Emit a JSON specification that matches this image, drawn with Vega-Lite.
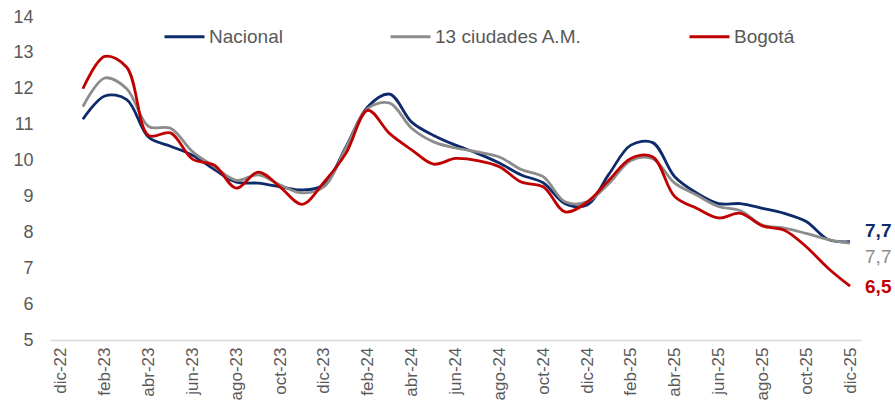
{
  "$schema": "https://vega.github.io/schema/vega-lite/v6.json",
  "autosize": {"type": "none"},
  "padding": {"left": 50, "top": 17, "right": 34, "bottom": 70},
  "width": 811,
  "height": 323,
  "config": {
    "font": "Liberation Sans",
    "view": {"stroke": null},
    "locale": {"number": {"decimal": ",", "thousands": ".", "grouping": [3], "currency": ["$", ""]}}
  },
  "data": {"values": [
    {"mes":"ene-23","serie":"Nacional","valor":11.15},{"mes":"feb-23","serie":"Nacional","valor":11.8},{"mes":"mar-23","serie":"Nacional","valor":11.7},{"mes":"abr-23","serie":"Nacional","valor":10.65},{"mes":"may-23","serie":"Nacional","valor":10.4},{"mes":"jun-23","serie":"Nacional","valor":10.15},{"mes":"jul-23","serie":"Nacional","valor":9.75},{"mes":"ago-23","serie":"Nacional","valor":9.4},{"mes":"sep-23","serie":"Nacional","valor":9.37},{"mes":"oct-23","serie":"Nacional","valor":9.27},{"mes":"nov-23","serie":"Nacional","valor":9.18},{"mes":"dic-23","serie":"Nacional","valor":9.32},
    {"mes":"ene-24","serie":"Nacional","valor":10.38},{"mes":"feb-24","serie":"Nacional","valor":11.5},{"mes":"mar-24","serie":"Nacional","valor":11.85},{"mes":"abr-24","serie":"Nacional","valor":11.07},{"mes":"may-24","serie":"Nacional","valor":10.7},{"mes":"jun-24","serie":"Nacional","valor":10.43},{"mes":"jul-24","serie":"Nacional","valor":10.2},{"mes":"ago-24","serie":"Nacional","valor":9.93},{"mes":"sep-24","serie":"Nacional","valor":9.6},{"mes":"oct-24","serie":"Nacional","valor":9.38},{"mes":"nov-24","serie":"Nacional","valor":8.8},{"mes":"dic-24","serie":"Nacional","valor":8.76},
    {"mes":"ene-25","serie":"Nacional","valor":9.62},{"mes":"feb-25","serie":"Nacional","valor":10.43},{"mes":"mar-25","serie":"Nacional","valor":10.5},{"mes":"abr-25","serie":"Nacional","valor":9.55},{"mes":"may-25","serie":"Nacional","valor":9.1},{"mes":"jun-25","serie":"Nacional","valor":8.8},{"mes":"jul-25","serie":"Nacional","valor":8.8},{"mes":"ago-25","serie":"Nacional","valor":8.67},{"mes":"sep-25","serie":"Nacional","valor":8.53},{"mes":"oct-25","serie":"Nacional","valor":8.3},{"mes":"nov-25","serie":"Nacional","valor":7.8},{"mes":"dic-25","serie":"Nacional","valor":7.74},
    {"mes":"ene-23","serie":"13 ciudades A.M.","valor":11.5},{"mes":"feb-23","serie":"13 ciudades A.M.","valor":12.3},{"mes":"mar-23","serie":"13 ciudades A.M.","valor":12.0},{"mes":"abr-23","serie":"13 ciudades A.M.","valor":10.95},{"mes":"may-23","serie":"13 ciudades A.M.","valor":10.9},{"mes":"jun-23","serie":"13 ciudades A.M.","valor":10.25},{"mes":"jul-23","serie":"13 ciudades A.M.","valor":9.83},{"mes":"ago-23","serie":"13 ciudades A.M.","valor":9.45},{"mes":"sep-23","serie":"13 ciudades A.M.","valor":9.6},{"mes":"oct-23","serie":"13 ciudades A.M.","valor":9.32},{"mes":"nov-23","serie":"13 ciudades A.M.","valor":9.1},{"mes":"dic-23","serie":"13 ciudades A.M.","valor":9.27},
    {"mes":"ene-24","serie":"13 ciudades A.M.","valor":10.35},{"mes":"feb-24","serie":"13 ciudades A.M.","valor":11.45},{"mes":"mar-24","serie":"13 ciudades A.M.","valor":11.6},{"mes":"abr-24","serie":"13 ciudades A.M.","valor":10.9},{"mes":"may-24","serie":"13 ciudades A.M.","valor":10.52},{"mes":"jun-24","serie":"13 ciudades A.M.","valor":10.35},{"mes":"jul-24","serie":"13 ciudades A.M.","valor":10.24},{"mes":"ago-24","serie":"13 ciudades A.M.","valor":10.1},{"mes":"sep-24","serie":"13 ciudades A.M.","valor":9.75},{"mes":"oct-24","serie":"13 ciudades A.M.","valor":9.55},{"mes":"nov-24","serie":"13 ciudades A.M.","valor":8.85},{"mes":"dic-24","serie":"13 ciudades A.M.","valor":8.85},
    {"mes":"ene-25","serie":"13 ciudades A.M.","valor":9.36},{"mes":"feb-25","serie":"13 ciudades A.M.","valor":10.0},{"mes":"mar-25","serie":"13 ciudades A.M.","valor":10.05},{"mes":"abr-25","serie":"13 ciudades A.M.","valor":9.37},{"mes":"may-25","serie":"13 ciudades A.M.","valor":9.04},{"mes":"jun-25","serie":"13 ciudades A.M.","valor":8.72},{"mes":"jul-25","serie":"13 ciudades A.M.","valor":8.6},{"mes":"ago-25","serie":"13 ciudades A.M.","valor":8.2},{"mes":"sep-25","serie":"13 ciudades A.M.","valor":8.12},{"mes":"oct-25","serie":"13 ciudades A.M.","valor":7.97},{"mes":"nov-25","serie":"13 ciudades A.M.","valor":7.8},{"mes":"dic-25","serie":"13 ciudades A.M.","valor":7.7},
    {"mes":"ene-23","serie":"Bogotá","valor":12.0},{"mes":"feb-23","serie":"Bogotá","valor":12.9},{"mes":"mar-23","serie":"Bogotá","valor":12.6},{"mes":"abr-23","serie":"Bogotá","valor":10.7},{"mes":"may-23","serie":"Bogotá","valor":10.77},{"mes":"jun-23","serie":"Bogotá","valor":10.04},{"mes":"jul-23","serie":"Bogotá","valor":9.87},{"mes":"ago-23","serie":"Bogotá","valor":9.23},{"mes":"sep-23","serie":"Bogotá","valor":9.68},{"mes":"oct-23","serie":"Bogotá","valor":9.26},{"mes":"nov-23","serie":"Bogotá","valor":8.78},{"mes":"dic-23","serie":"Bogotá","valor":9.4},
    {"mes":"ene-24","serie":"Bogotá","valor":10.2},{"mes":"feb-24","serie":"Bogotá","valor":11.4},{"mes":"mar-24","serie":"Bogotá","valor":10.75},{"mes":"abr-24","serie":"Bogotá","valor":10.3},{"mes":"may-24","serie":"Bogotá","valor":9.9},{"mes":"jun-24","serie":"Bogotá","valor":10.06},{"mes":"jul-24","serie":"Bogotá","valor":10.0},{"mes":"ago-24","serie":"Bogotá","valor":9.83},{"mes":"sep-24","serie":"Bogotá","valor":9.4},{"mes":"oct-24","serie":"Bogotá","valor":9.27},{"mes":"nov-24","serie":"Bogotá","valor":8.57},{"mes":"dic-24","serie":"Bogotá","valor":8.84},
    {"mes":"ene-25","serie":"Bogotá","valor":9.45},{"mes":"feb-25","serie":"Bogotá","valor":10.06},{"mes":"mar-25","serie":"Bogotá","valor":10.1},{"mes":"abr-25","serie":"Bogotá","valor":9.0},{"mes":"may-25","serie":"Bogotá","valor":8.67},{"mes":"jun-25","serie":"Bogotá","valor":8.4},{"mes":"jul-25","serie":"Bogotá","valor":8.53},{"mes":"ago-25","serie":"Bogotá","valor":8.18},{"mes":"sep-25","serie":"Bogotá","valor":8.06},{"mes":"oct-25","serie":"Bogotá","valor":7.6},{"mes":"nov-25","serie":"Bogotá","valor":7.0},{"mes":"dic-25","serie":"Bogotá","valor":6.5}
  ]},
  "encoding": {
    "x": {
      "field": "mes", "type": "ordinal", "sort": null,
      "scale": {"type": "point", "padding": 0.5, "domain": ["dic-22","ene-23","feb-23","mar-23","abr-23","may-23","jun-23","jul-23","ago-23","sep-23","oct-23","nov-23","dic-23","ene-24","feb-24","mar-24","abr-24","may-24","jun-24","jul-24","ago-24","sep-24","oct-24","nov-24","dic-24","ene-25","feb-25","mar-25","abr-25","may-25","jun-25","jul-25","ago-25","sep-25","oct-25","nov-25","dic-25"]},
      "axis": {
        "title": null,
        "values": ["dic-22","feb-23","abr-23","jun-23","ago-23","oct-23","dic-23","feb-24","abr-24","jun-24","ago-24","oct-24","dic-24","feb-25","abr-25","jun-25","ago-25","oct-25","dic-25"],
        "labelAngle": -90, "labelFontSize": 17, "labelColor": "#595959", "labelPadding": 7,
        "ticks": false, "domainColor": "#d9d9d9", "domainWidth": 1.3, "grid": false
      }
    },
    "y": {
      "field": "valor", "type": "quantitative",
      "scale": {"domain": [5, 14], "nice": false, "zero": false},
      "axis": {"title": null, "values": [5,6,7,8,9,10,11,12,13,14], "format": "d", "labelFontSize": 18, "labelColor": "#595959", "ticks": false, "domain": false, "grid": false, "labelPadding": 17}
    }
  },
  "layer": [
    {
      "mark": {"type": "line", "interpolate": "catmull-rom", "strokeWidth": 2.8},
      "encoding": {
        "color": {
          "field": "serie", "type": "nominal",
          "scale": {"domain": ["Nacional", "13 ciudades A.M.", "Bogotá"], "range": ["#0d2a6b", "#8c8c8c", "#c00000"]},
          "legend": {
            "title": null, "orient": "none", "direction": "horizontal", "legendX": 113, "legendY": -2,
            "symbolType": "stroke", "symbolSize": 1600, "symbolStrokeWidth": 3,
            "labelFontSize": 19, "labelColor": "#595959", "labelOffset": 3, "columnPadding": 101
          }
        }
      }
    },
    {
      "transform": [{"filter": "datum.mes == 'dic-25' && datum.serie == 'Nacional'"}],
      "mark": {"type": "text", "align": "left", "baseline": "middle", "dx": 15, "dy": -11, "fontSize": 19, "fontWeight": "bold", "color": "#0d2a6b"},
      "encoding": {"text": {"field": "valor", "format": ".1f"}}
    },
    {
      "transform": [{"filter": "datum.mes == 'dic-25' && datum.serie == '13 ciudades A.M.'"}],
      "mark": {"type": "text", "align": "left", "baseline": "middle", "dx": 15, "dy": 14, "fontSize": 19, "color": "#8c8c8c"},
      "encoding": {"text": {"field": "valor", "format": ".1f"}}
    },
    {
      "transform": [{"filter": "datum.mes == 'dic-25' && datum.serie == 'Bogotá'"}],
      "mark": {"type": "text", "align": "left", "baseline": "middle", "dx": 15, "dy": 1, "fontSize": 19, "fontWeight": "bold", "color": "#c00000"},
      "encoding": {"text": {"field": "valor", "format": ".1f"}}
    }
  ]
}
